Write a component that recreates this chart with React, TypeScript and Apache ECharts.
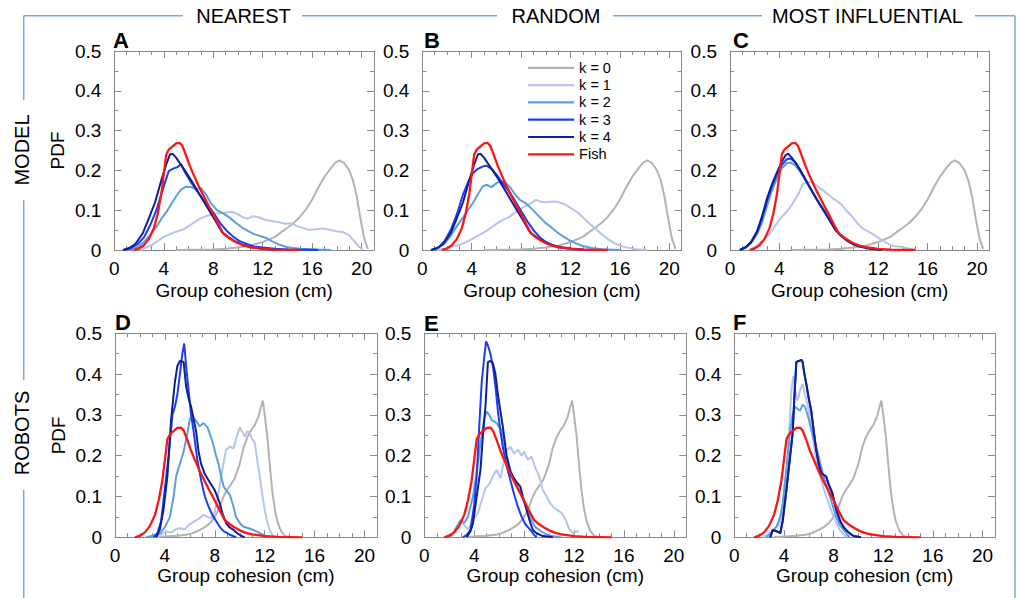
import React, { useEffect, useRef } from "react";
import * as echarts from "echarts";

// ---------- DATA ----------
const seriesNames = ["k = 0", "k = 1", "k = 2", "k = 3", "k = 4", "Fish"];
const columnTitles = ["NEAREST", "RANDOM", "MOST INFLUENTIAL"];
const rowTitles = ["MODEL", "ROBOTS"];
const panelLetters = ["A", "B", "C", "D", "E", "F"];
const xTickValues = [0, 4, 8, 12, 16, 20];

type P = [number, number][];

const fishPdf: P = [[1.6,0],[2.0,0.004],[2.4,0.012],[2.8,0.028],[3.2,0.055],[3.5,0.09],[3.8,0.14],[4.0,0.19],[4.2,0.24],[4.4,0.252],[4.7,0.26],[5.0,0.268],[5.3,0.269],[5.5,0.262],[5.8,0.238],[6.1,0.212],[6.4,0.19],[6.8,0.162],[7.2,0.137],[7.6,0.113],[8.0,0.09],[8.4,0.065],[8.8,0.042],[9.2,0.032],[9.6,0.024],[10.0,0.017],[10.5,0.011],[11.0,0.007],[12.0,0.003],[13.0,0.001],[15.0,0]];

const modelK0: P = [[5,0],[8,0.001],[9,0.003],[10,0.006],[11,0.011],[12,0.02],[13,0.033],[13.5,0.045],[14,0.056],[14.5,0.068],[15,0.083],[15.5,0.102],[16,0.127],[16.5,0.157],[17,0.184],[17.5,0.205],[17.9,0.22],[18.2,0.225],[18.6,0.218],[19,0.2],[19.3,0.175],[19.6,0.135],[19.9,0.08],[20.2,0.03],[20.5,0.003]];

const nearK1: P = [[2.1,0],[3,0.012],[4,0.033],[5,0.046],[5.6,0.052],[6.3,0.066],[7,0.08],[7.7,0.088],[8.3,0.092],[9,0.094],[9.5,0.096],[10,0.09],[10.4,0.082],[10.8,0.079],[11.2,0.085],[11.6,0.083],[12.2,0.076],[12.8,0.072],[13.3,0.07],[13.8,0.066],[14.3,0.067],[14.8,0.06],[15.3,0.055],[15.8,0.05],[16.3,0.052],[16.9,0.054],[17.4,0.051],[17.9,0.047],[18.5,0.045],[19,0.037],[19.4,0.022],[19.8,0.008],[20.1,0]];
const nearK2: P = [[1.3,0],[1.8,0.006],[2.3,0.017],[2.9,0.037],[3.4,0.058],[3.8,0.078],[4.2,0.095],[4.6,0.115],[5.0,0.135],[5.4,0.152],[5.8,0.159],[6.2,0.158],[6.6,0.153],[7.0,0.156],[7.4,0.14],[7.8,0.118],[8.3,0.1],[8.8,0.092],[9.3,0.082],[9.8,0.069],[10.3,0.057],[10.8,0.048],[11.3,0.04],[11.8,0.035],[12.3,0.03],[12.8,0.021],[13.3,0.014],[14,0.007],[15,0.003],[16.5,0.001],[17.5,0]];
const nearK3: P = [[0.9,0],[1.4,0.005],[1.9,0.015],[2.4,0.032],[2.9,0.062],[3.4,0.1],[3.8,0.14],[4.1,0.17],[4.4,0.198],[4.8,0.205],[5.1,0.208],[5.4,0.216],[5.7,0.196],[6.1,0.175],[6.6,0.152],[7.1,0.13],[7.6,0.11],[8.1,0.09],[8.6,0.066],[9.1,0.048],[9.6,0.034],[10.1,0.023],[10.7,0.015],[11.3,0.009],[12,0.006],[13,0.003],[14,0.001],[16.5,0]];
const nearK4: P = [[0.7,0],[1.2,0.005],[1.7,0.015],[2.3,0.042],[2.8,0.08],[3.3,0.12],[3.8,0.175],[4.2,0.215],[4.5,0.24],[4.7,0.242],[5.0,0.232],[5.3,0.218],[5.7,0.2],[6.2,0.176],[6.7,0.15],[7.2,0.124],[7.7,0.098],[8.2,0.072],[8.7,0.045],[9.2,0.033],[9.7,0.023],[10.3,0.014],[11,0.007],[12,0.003],[13,0]];

const randK1: P = [[1.2,0],[2,0.004],[3,0.013],[3.7,0.022],[4.4,0.034],[5.1,0.046],[5.7,0.059],[6.2,0.07],[6.6,0.077],[7.0,0.082],[7.4,0.092],[7.8,0.1],[8.2,0.108],[8.7,0.116],[9.2,0.126],[9.6,0.121],[10.0,0.12],[10.5,0.122],[11.0,0.121],[11.5,0.115],[12.0,0.106],[12.5,0.096],[13.0,0.082],[13.5,0.067],[14,0.054],[14.5,0.04],[15,0.028],[15.5,0.018],[16,0.011],[16.6,0.006],[17.3,0.002],[18.2,0]];
const randK2: P = [[0.8,0],[1.3,0.005],[1.8,0.016],[2.3,0.035],[2.8,0.06],[3.3,0.082],[3.7,0.1],[4.1,0.118],[4.5,0.14],[4.9,0.16],[5.2,0.164],[5.6,0.158],[6.0,0.168],[6.3,0.172],[6.7,0.17],[7.1,0.158],[7.5,0.14],[7.9,0.126],[8.4,0.117],[8.9,0.102],[9.4,0.086],[9.9,0.07],[10.4,0.058],[10.9,0.045],[11.4,0.034],[11.9,0.025],[12.4,0.017],[13,0.01],[13.7,0.005],[14.5,0.002],[16,0]];
const randK3: P = [[0.8,0],[1.3,0.006],[1.8,0.022],[2.3,0.05],[2.8,0.09],[3.3,0.14],[3.7,0.17],[4.1,0.193],[4.5,0.204],[4.9,0.21],[5.2,0.212],[5.6,0.204],[6.0,0.19],[6.5,0.168],[7.0,0.148],[7.5,0.124],[8.0,0.098],[8.5,0.072],[9.0,0.05],[9.5,0.032],[10.0,0.02],[10.6,0.012],[11.3,0.007],[12.1,0.004],[13,0.001],[14,0]];
const randK4: P = nearK4;

const inflK1: P = [[1.6,0],[2.1,0.01],[2.7,0.025],[3.2,0.04],[3.6,0.058],[4.1,0.08],[4.7,0.1],[5.1,0.118],[5.5,0.138],[5.9,0.166],[6.3,0.17],[6.7,0.17],[7.0,0.162],[7.4,0.153],[7.8,0.143],[8.2,0.133],[8.6,0.124],[9.0,0.115],[9.4,0.1],[9.9,0.084],[10.3,0.068],[10.7,0.055],[11.1,0.048],[11.5,0.041],[11.9,0.033],[12.3,0.025],[12.8,0.016],[13.2,0.01],[13.7,0.009],[14.3,0.005],[15,0]];
const inflK2: P = [[0.8,0],[1.3,0.006],[1.7,0.017],[2.2,0.04],[2.6,0.07],[3.0,0.11],[3.4,0.15],[3.8,0.18],[4.2,0.205],[4.6,0.218],[4.9,0.22],[5.3,0.212],[5.7,0.196],[6.1,0.176],[6.5,0.155],[6.9,0.135],[7.3,0.115],[7.7,0.098],[8.1,0.078],[8.5,0.055],[9.0,0.038],[9.5,0.025],[10.0,0.016],[10.6,0.009],[11.3,0.005],[12.3,0]];
const inflK3: P = [[0.8,0],[1.3,0.007],[1.7,0.019],[2.2,0.045],[2.6,0.08],[3.0,0.124],[3.4,0.16],[3.8,0.19],[4.2,0.214],[4.6,0.228],[4.9,0.23],[5.3,0.22],[5.7,0.2],[6.1,0.178],[6.5,0.156],[6.9,0.134],[7.3,0.113],[7.7,0.094],[8.1,0.074],[8.5,0.052],[9.0,0.036],[9.5,0.024],[10.0,0.015],[10.6,0.008],[11.3,0.004],[12.3,0]];
const inflK4: P = [[0.8,0],[1.3,0.008],[1.7,0.02],[2.2,0.048],[2.6,0.085],[3.0,0.13],[3.4,0.165],[3.8,0.195],[4.2,0.222],[4.5,0.238],[4.7,0.242],[5.0,0.232],[5.4,0.215],[5.8,0.195],[6.2,0.172],[6.6,0.15],[7.0,0.128],[7.4,0.108],[7.8,0.088],[8.2,0.068],[8.6,0.048],[9.0,0.035],[9.5,0.023],[10.0,0.014],[10.6,0.008],[11.3,0.004],[12.3,0]];

const robotK0: P = [[3.1,0],[4.0,0.002],[5.0,0.004],[5.7,0.006],[6.2,0.01],[6.8,0.018],[7.2,0.025],[7.6,0.034],[8.0,0.05],[8.4,0.075],[8.7,0.1],[9.0,0.117],[9.3,0.13],[9.6,0.145],[10.0,0.18],[10.3,0.22],[10.6,0.245],[10.9,0.262],[11.2,0.275],[11.5,0.296],[11.7,0.32],[11.85,0.335],[12.0,0.3],[12.2,0.25],[12.4,0.18],[12.6,0.115],[12.8,0.07],[13.0,0.04],[13.3,0.016],[13.6,0.004],[14,0]];

const rNearK1: P = [[3.3,0],[3.7,0.008],[4.1,0.014],[4.5,0.012],[4.9,0.02],[5.2,0.022],[5.6,0.02],[5.9,0.03],[6.3,0.038],[6.7,0.045],[7.1,0.055],[7.4,0.05],[7.7,0.047],[8.0,0.062],[8.3,0.11],[8.6,0.165],[8.9,0.214],[9.2,0.222],[9.5,0.218],[9.8,0.25],[10.0,0.27],[10.2,0.258],[10.4,0.247],[10.6,0.26],[10.8,0.255],[11.0,0.24],[11.2,0.232],[11.4,0.19],[11.6,0.15],[11.8,0.105],[12.0,0.067],[12.2,0.038],[12.4,0.018],[12.6,0.006],[12.9,0]];
const rNearK2: P = [[2.5,0],[3.0,0.004],[3.6,0.01],[4.0,0.025],[4.4,0.05],[4.7,0.1],[4.9,0.15],[5.2,0.18],[5.5,0.21],[5.8,0.255],[6.0,0.29],[6.2,0.298],[6.5,0.285],[6.8,0.272],[7.1,0.28],[7.4,0.27],[7.7,0.245],[7.9,0.225],[8.1,0.2],[8.3,0.18],[8.5,0.15],[8.7,0.125],[8.9,0.115],[9.2,0.105],[9.5,0.075],[9.7,0.05],[10.0,0.035],[10.3,0.026],[10.7,0.022],[11.1,0.018],[11.6,0.01],[12.1,0.003],[12.7,0]];
const rNearK3: P = [[3.1,0],[3.4,0.01],[3.7,0.04],[4.0,0.12],[4.3,0.2],[4.6,0.3],[4.8,0.32],[5.0,0.35],[5.2,0.4],[5.4,0.45],[5.55,0.475],[5.7,0.42],[5.9,0.36],[6.1,0.3],[6.3,0.26],[6.6,0.19],[6.9,0.14],[7.2,0.1],[7.5,0.075],[7.8,0.055],[8.1,0.04],[8.4,0.025],[8.7,0.015],[9.0,0.01],[9.3,0.005],[9.7,0]];
const rNearK4: P = [[3.3,0],[3.6,0.02],[3.9,0.07],[4.2,0.15],[4.5,0.29],[4.8,0.38],[5.0,0.42],[5.2,0.432],[5.5,0.43],[5.7,0.37],[5.9,0.34],[6.1,0.32],[6.3,0.29],[6.5,0.26],[6.7,0.21],[6.9,0.18],[7.2,0.155],[7.5,0.14],[7.8,0.125],[8.0,0.115],[8.2,0.1],[8.4,0.083],[8.6,0.06],[8.9,0.035],[9.2,0.024],[9.5,0.018],[9.8,0.01],[10.1,0.004],[10.4,0]];

const rRandK1: P = [[2.1,0],[2.5,0.02],[2.9,0.04],[3.2,0.03],[3.5,0.02],[3.9,0.04],[4.3,0.06],[4.6,0.09],[4.9,0.12],[5.25,0.132],[5.5,0.15],[5.8,0.165],[6.1,0.145],[6.4,0.19],[6.6,0.214],[6.9,0.222],[7.2,0.205],[7.5,0.215],[7.8,0.2],[8.0,0.21],[8.3,0.19],[8.6,0.198],[8.9,0.17],[9.2,0.15],[9.5,0.116],[9.8,0.1],[10.1,0.083],[10.4,0.072],[10.7,0.066],[11.0,0.06],[11.3,0.045],[11.6,0.022],[11.9,0.01],[12.2,0.014],[12.4,0.015]];
const rRandK2: P = [[2.1,0],[2.5,0.02],[2.9,0.042],[3.2,0.035],[3.5,0.05],[3.9,0.1],[4.2,0.16],[4.5,0.23],[4.8,0.29],[5.0,0.308],[5.2,0.3],[5.4,0.288],[5.6,0.284],[5.8,0.28],[6.0,0.27],[6.2,0.262],[6.4,0.225],[6.6,0.198],[6.9,0.165],[7.1,0.15],[7.4,0.128],[7.7,0.11],[8.0,0.085],[8.3,0.065],[8.6,0.04],[8.9,0.025],[9.3,0.016],[9.7,0.008],[10.1,0.004],[10.9,0]];
const rRandK3: P = [[3.1,0],[3.4,0.006],[3.7,0.018],[4.0,0.08],[4.2,0.15],[4.4,0.27],[4.6,0.38],[4.8,0.44],[4.95,0.48],[5.1,0.47],[5.3,0.45],[5.5,0.42],[5.7,0.37],[5.9,0.31],[6.1,0.26],[6.3,0.22],[6.6,0.175],[6.9,0.14],[7.2,0.105],[7.5,0.075],[7.8,0.05],[8.1,0.032],[8.5,0.018],[8.8,0.006],[9.0,0]];
const rRandK4: P = [[3.4,0],[3.7,0.015],[3.9,0.034],[4.2,0.1],[4.5,0.165],[4.7,0.25],[4.9,0.32],[5.1,0.43],[5.3,0.432],[5.5,0.426],[5.7,0.4],[5.9,0.35],[6.1,0.31],[6.3,0.27],[6.6,0.2],[6.9,0.16],[7.1,0.149],[7.4,0.135],[7.7,0.124],[7.9,0.1],[8.2,0.067],[8.5,0.035],[8.7,0.018],[9.0,0.01],[9.5,0.003],[10.3,0]];

const rInflK1: P = [[2.3,0],[2.8,0.01],[3.2,0.02],[3.7,0.034],[4.0,0.09],[4.2,0.15],[4.4,0.25],[4.6,0.36],[4.75,0.395],[4.9,0.36],[5.1,0.335],[5.3,0.36],[5.5,0.376],[5.7,0.35],[6.0,0.31],[6.2,0.27],[6.4,0.23],[6.6,0.19],[6.9,0.149],[7.2,0.12],[7.4,0.1],[7.7,0.075],[8.0,0.05],[8.3,0.03],[8.5,0.018],[8.8,0.008],[9.0,0]];
const rInflK2: P = [[2.6,0],[3.0,0.012],[3.4,0.026],[3.7,0.05],[3.9,0.083],[4.2,0.17],[4.5,0.263],[4.7,0.3],[4.9,0.32],[5.1,0.315],[5.3,0.31],[5.5,0.325],[5.7,0.32],[6.0,0.29],[6.2,0.263],[6.4,0.24],[6.6,0.222],[6.9,0.185],[7.2,0.149],[7.5,0.12],[7.7,0.1],[8.0,0.07],[8.2,0.05],[8.5,0.03],[8.8,0.018],[9.3,0]];
const rInflK4: P = [[2.9,0],[3.1,0.018],[3.4,0.015],[3.7,0.01],[3.9,0.04],[4.2,0.116],[4.5,0.2],[4.7,0.255],[4.85,0.35],[5.0,0.43],[5.2,0.432],[5.4,0.435],[5.5,0.43],[5.65,0.4],[5.8,0.376],[6.0,0.34],[6.2,0.31],[6.4,0.26],[6.6,0.214],[6.8,0.18],[7.0,0.157],[7.2,0.153],[7.4,0.149],[7.6,0.13],[7.9,0.108],[8.1,0.08],[8.3,0.06],[8.5,0.042],[8.8,0.025],[9.0,0.018],[9.3,0.01],[9.6,0.003],[10.2,0]];
const rInflK3: P = rInflK4;

const panelData: P[][] = [
  [modelK0, nearK1, nearK2, nearK3, nearK4, fishPdf],
  [modelK0, randK1, randK2, randK3, randK4, fishPdf],
  [modelK0, inflK1, inflK2, inflK3, inflK4, fishPdf],
  [robotK0, rNearK1, rNearK2, rNearK3, rNearK4, fishPdf],
  [robotK0, rRandK1, rRandK2, rRandK3, rRandK4, fishPdf],
  [robotK0, rInflK1, rInflK2, rInflK3, rInflK4, fishPdf],
];

// ---------- STYLE / LAYOUT ----------
const COLORS = ["#b3b3b3", "#b5c4ea", "#5d9fdc", "#1c3ef2", "#0c1f98", "#ff1414"];
const FONT = "'Liberation Sans', Arial, Helvetica, sans-serif";
const AXIS_C = "#8a8a8a";
const FRAME_C = "#7fa6d6";

const GRIDS = [
  { left: 114.3, top: 51, width: 259.7, height: 199 },
  { left: 422.3, top: 51, width: 259.4, height: 199 },
  { left: 730, top: 51, width: 259.3, height: 199 },
  { left: 115, top: 333.3, width: 262, height: 204 },
  { left: 424.3, top: 333.3, width: 262, height: 204 },
  { left: 734.3, top: 333.3, width: 260.7, height: 204 },
];

function buildOption() {
  const lineStyle = { color: AXIS_C, width: 1 };
  const xAxis: any[] = [];
  const yAxis: any[] = [];
  const series: any[] = [];
  GRIDS.forEach((_, gi) => {
    const row = gi < 3 ? 0 : 1;
    const base = { type: "value", gridIndex: gi, min: 0, max: 21, splitLine: { show: false } };
    xAxis.push({
      ...base, position: "bottom", interval: 4,
      axisLine: { show: true, onZero: false, lineStyle },
      axisTick: { inside: true, length: 7, lineStyle },
      axisLabel: { fontSize: 19, color: "#000", margin: 9, showMaxLabel: false, fontFamily: FONT,
        formatter: (v: number) => (xTickValues.indexOf(v) >= 0 ? String(v) : "") },
      name: "Group cohesion (cm)", nameLocation: "middle", nameGap: row === 0 ? 31 : 25,
      nameTextStyle: { fontSize: 19, color: "#000", fontFamily: FONT },
    });
    xAxis.push({ ...base, position: "bottom", interval: 1, axisLine: { show: false, onZero: false },
      axisTick: { inside: true, length: 4, lineStyle }, axisLabel: { show: false } });
    xAxis.push({ ...base, position: "top", interval: 4, axisLine: { show: true, onZero: false, lineStyle },
      axisTick: { inside: true, length: 7, lineStyle }, axisLabel: { show: false } });
    xAxis.push({ ...base, position: "top", interval: 1, axisLine: { show: false, onZero: false },
      axisTick: { inside: true, length: 4, lineStyle }, axisLabel: { show: false } });

    const ybase = { type: "value", gridIndex: gi, min: 0, max: 0.5, interval: 0.1, splitLine: { show: false },
      axisLine: { show: true, onZero: false, lineStyle },
      axisTick: { inside: true, length: 7, lineStyle },
      minorTick: { show: true, splitNumber: 2, length: 4, lineStyle } };
    yAxis.push({
      ...ybase, position: "left",
      axisLabel: { fontSize: 19, color: "#000", margin: 13, fontFamily: FONT },
      ...(gi % 3 === 0
        ? { name: "PDF", nameLocation: "middle", nameGap: 47, nameRotate: 90,
            nameTextStyle: { fontSize: 19, color: "#000", fontFamily: FONT } }
        : {}),
    });
    yAxis.push({ ...ybase, position: "right", axisLabel: { show: false } });

    panelData[gi].forEach((d, si) => {
      series.push({
        type: "line", name: seriesNames[si], data: d,
        xAxisIndex: gi * 4, yAxisIndex: gi * 2,
        showSymbol: false, symbol: "none", smooth: false,
        color: COLORS[si],
        lineStyle: { color: COLORS[si], width: si === 5 ? 2.3 : 2 },
        z: 2 + si,
      });
    });
  });

  const graphic: any[] = [];
  const frameLine = (x1: number, y1: number, x2: number, y2: number) => ({
    type: "line", shape: { x1, y1, x2, y2 }, style: { stroke: FRAME_C, lineWidth: 1.5 }, silent: true,
  });
  const TY = 15.7, LX = 23.7, RX = 1015;
  graphic.push(frameLine(LX, TY, 183, TY), frameLine(302, TY, 497, TY), frameLine(613, TY, 762, TY), frameLine(975, TY, RX, TY));
  graphic.push(frameLine(LX, TY, LX, 100), frameLine(LX, 200, LX, 380), frameLine(LX, 490, LX, 598));
  graphic.push(frameLine(RX, TY, RX, 598));

  const titleX = [243.5, 556, 867.5];
  columnTitles.forEach((t, i) => graphic.push({
    type: "text", x: titleX[i], y: TY,
    style: { text: t, fontSize: 20, fill: "#000", fontFamily: FONT, align: "center", verticalAlign: "middle" },
  }));
  const rowY = [150, 433];
  rowTitles.forEach((t, i) => graphic.push({
    type: "text", x: 22, y: rowY[i], rotation: Math.PI / 2,
    style: { text: t, fontSize: 20, fill: "#000", fontFamily: FONT, align: "center", verticalAlign: "middle" },
  }));
  const letterPos = [[113, 40], [424, 40], [733, 40], [115, 322.5], [424, 323], [733, 322]];
  panelLetters.forEach((l, i) => graphic.push({
    type: "text", x: letterPos[i][0], y: letterPos[i][1],
    style: { text: l, fontSize: 22, fontWeight: "bold", fill: "#000", fontFamily: FONT, align: "left", verticalAlign: "middle" },
  }));

  return {
    animation: false,
    backgroundColor: "#ffffff",
    textStyle: { fontFamily: FONT },
    grid: GRIDS.map((g) => ({ ...g, containLabel: false })),
    xAxis, yAxis, series, graphic,
    legend: {
      data: seriesNames, orient: "vertical", left: 527, top: 60.3, padding: 0,
      itemWidth: 46, itemHeight: 14, itemGap: 2.3,
      itemStyle: { opacity: 0, borderWidth: 0 },
      lineStyle: { width: 2.2 },
      textStyle: { fontSize: 14.5, color: "#000", fontFamily: FONT },
      selectedMode: false,
    },
  };
}

export default function App() {
  const ref = useRef<HTMLDivElement>(null);
  useEffect(() => {
    if (!ref.current) return;
    const chart = echarts.init(ref.current, undefined, { renderer: "svg" });
    chart.setOption(buildOption() as any);
    return () => chart.dispose();
  }, []);
  return <div ref={ref} style={{ position: "absolute", left: 0, top: 0, width: 1021, height: 598 }} />;
}
